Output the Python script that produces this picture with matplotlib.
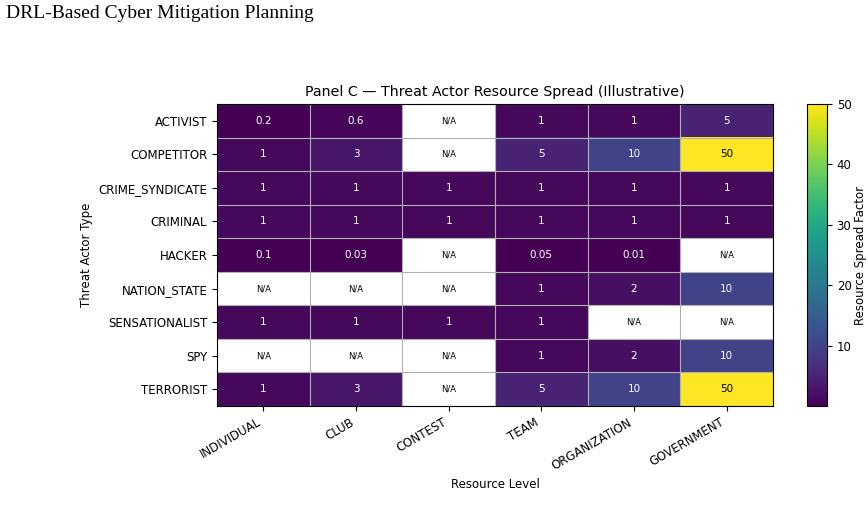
import numpy as np
import matplotlib.pyplot as plt

actors = ["ACTIVIST", "COMPETITOR", "CRIME_SYNDICATE", "CRIMINAL", "HACKER",
          "NATION_STATE", "SENSATIONALIST", "SPY", "TERRORIST"]
levels = ["INDIVIDUAL", "CLUB", "CONTEST", "TEAM", "ORGANIZATION", "GOVERNMENT"]
nan = np.nan
spread = [
    [0.2, 0.6, nan, 1, 1, 5],
    [1, 3, nan, 5, 10, 50],
    [1, 1, 1, 1, 1, 1],
    [1, 1, 1, 1, 1, 1],
    [0.1, 0.03, nan, 0.05, 0.01, nan],
    [nan, nan, nan, 1, 2, 10],
    [1, 1, 1, 1, nan, nan],
    [nan, nan, nan, 1, 2, 10],
    [1, 3, nan, 5, 10, 50],
]

data = np.ma.masked_invalid(np.array(spread, dtype=float))
vmin, vmax = data.min(), data.max()

fig = plt.figure(figsize=(8.68, 5.17), dpi=100)
ax = fig.add_axes([0.25, 0.2147, 0.6406, 0.584])
cax = fig.add_axes([0.9297, 0.2147, 0.023, 0.584])

cmap = plt.get_cmap("viridis").copy()
cmap.set_bad("white")
im = ax.imshow(data, cmap=cmap, vmin=vmin, vmax=vmax, aspect="auto")

for i in range(len(actors)):
    for j in range(len(levels)):
        v = spread[i][j]
        if np.isnan(v):
            ax.text(j, i, "N/A", ha="center", va="center", fontsize=6, color="black")
        else:
            col = "black" if v > 0.6 * vmax else "white"
            ax.text(j, i, f"{v:g}", ha="center", va="center", fontsize=7.5, color=col)

ax.set_xticks(range(len(levels)))
ax.set_xticklabels(levels, rotation=30, ha="right", fontsize=8.5)
ax.set_yticks(range(len(actors)))
ax.set_yticklabels(actors, fontsize=8.5)
ax.set_xticks(np.arange(-0.5, len(levels), 1), minor=True)
ax.set_yticks(np.arange(-0.5, len(actors), 1), minor=True)
ax.grid(which="minor", color="#b0b0b0", linewidth=0.8)
ax.tick_params(which="minor", length=0)
ax.set_xlabel("Resource Level", fontsize=8.5)
ax.set_ylabel("Threat Actor Type", fontsize=8.5)
ax.set_title("Panel C \u2014 Threat Actor Resource Spread (Illustrative)", fontsize=10.2)

cb = fig.colorbar(im, cax=cax)
cb.set_ticks([10, 20, 30, 40, 50])
cb.ax.tick_params(labelsize=8.5)
cb.set_label("Resource Spread Factor", fontsize=8.5, labelpad=2)

fig.text(0.007, 0.973, "DRL-Based Cyber Mitigation Planning", family="Liberation Serif",
         fontsize=14, ha="left", va="center")

fig.savefig("out.png", dpi=100)
